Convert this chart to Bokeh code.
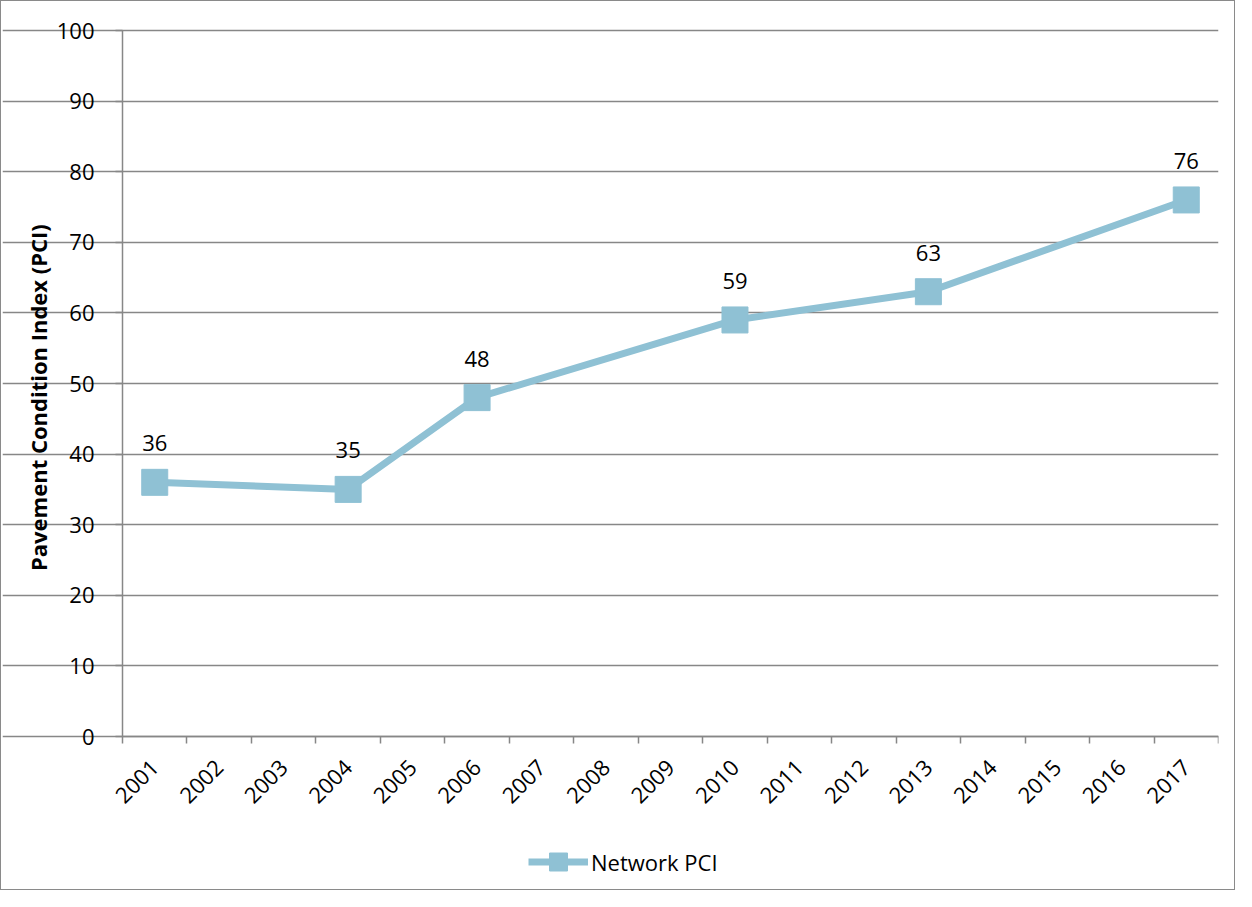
import math
from bokeh.plotting import figure
from bokeh.core.properties import value
from bokeh.models import (ColumnDataSource, FixedTicker, Label, LabelSet, Legend,
                          LegendItem, Range1d)
from bokeh.embed import file_html
from bokeh.resources import INLINE

# ---- data ----
years = [2001, 2002, 2003, 2004, 2005, 2006, 2007, 2008, 2009,
         2010, 2011, 2012, 2013, 2014, 2015, 2016, 2017]
survey_years = [2001, 2004, 2006, 2010, 2013, 2017]
network_pci = [36, 35, 48, 59, 63, 76]
y_ticks = [0, 10, 20, 30, 40, 50, 60, 70, 80, 90, 100]
series_name = "Network PCI"
y_title = "Pavement Condition Index (PCI)"

FONT = "Open Sans"
GRAY = "#878787"
BLUE = "#8FC1D4"

# plot-area geometry (pixels); the frame is enlarged so that axis labels,
# title and legend lie inside it and are not clipped
X0, X1 = years[0] - 0.5, years[-1] + 0.5
PX_PER_YEAR = 1096 / (X1 - X0)
PX_PER_UNIT = 706 / (y_ticks[-1] - y_ticks[0])
FRAME_W, FRAME_H = 1216, 882
x_start = X0 - 120 / PX_PER_YEAR
x_end = x_start + FRAME_W / PX_PER_YEAR
y_end = y_ticks[-1] + 28 / PX_PER_UNIT
y_start = y_end - FRAME_H / PX_PER_UNIT

src = ColumnDataSource(dict(x=survey_years, y=network_pci,
                            lab=[str(v) for v in network_pci]))

p = figure(frame_width=FRAME_W, frame_height=FRAME_H, output_backend="svg",
           toolbar_location=None,
           x_range=Range1d(x_start, x_end), y_range=Range1d(y_start, y_end),
           min_border_left=1, min_border_top=1, min_border_right=16,
           min_border_bottom=5)
p.outline_line_color = None
p.background_fill_color = "white"
p.border_fill_color = "white"
p.styles = {"border": "1px solid #8a8a8a"}

# y axis at the left edge of the category axis
p.yaxis.fixed_location = X0
p.yaxis.bounds = (y_ticks[0], y_ticks[-1])
p.yaxis.ticker = FixedTicker(ticks=y_ticks)
p.yaxis.axis_line_color = GRAY
p.yaxis.axis_line_width = 1.5
p.yaxis.major_tick_line_color = GRAY
p.yaxis.major_tick_line_width = 1.5
p.yaxis.major_tick_out = 7
p.yaxis.major_tick_in = 0
p.yaxis.minor_tick_line_color = None
p.yaxis.major_label_text_font = FONT
p.yaxis.major_label_text_font_size = "22px"
p.yaxis.major_label_text_color = "black"
p.yaxis.major_label_standoff = 21

# x axis at value 0: labels at category centres, tick marks at boundaries
bounds = [y - 0.5 for y in years] + [years[-1] + 0.5]
p.xaxis.fixed_location = y_ticks[0]
p.xaxis.bounds = (X0, X1)
p.xaxis.ticker = FixedTicker(ticks=years, minor_ticks=bounds)
p.xaxis.axis_line_color = GRAY
p.xaxis.axis_line_width = 1.5
p.xaxis.major_tick_line_color = None
p.xaxis.major_tick_out = 0
p.xaxis.major_tick_in = 0
p.xaxis.minor_tick_line_color = GRAY
p.xaxis.minor_tick_line_width = 1.5
p.xaxis.minor_tick_out = 7
p.xaxis.minor_tick_in = 0
p.xaxis.major_label_orientation = math.pi / 4
p.xaxis.major_label_text_font = FONT
p.xaxis.major_label_text_font_size = "22px"
p.xaxis.major_label_text_color = "black"
p.xaxis.major_label_standoff = 20
p.xaxis.major_label_overrides = {y: str(y) for y in years}

p.xgrid.grid_line_color = None
p.ygrid.grid_line_color = GRAY
p.ygrid.grid_line_width = 1.5
p.ygrid.bounds = (X0, X1)

# y-axis title
p.add_layout(Label(x=X0 - 85 / PX_PER_YEAR, y=48, text=y_title, angle=math.pi / 2,
                   text_align="center", text_baseline="middle",
                   text_font=FONT, text_font_size="22px",
                   text_font_style="bold", text_color="black"))

ln = p.line("x", "y", source=src, line_color=BLUE, line_width=7, line_join="round")
sc = p.scatter("x", "y", source=src, marker="square", size=26,
               fill_color=BLUE, line_color=BLUE)

labels = LabelSet(x="x", y="y", text="lab", source=src, y_offset=39,
                  text_align="center", text_baseline="middle",
                  text_font=value(FONT), text_font_size=value("22px"),
                  text_color="black")
p.add_layout(labels)

legend = Legend(items=[LegendItem(label=series_name, renderers=[ln, sc])],
                location=(526, 0), orientation="horizontal",
                glyph_width=60, glyph_height=45, label_standoff=3,
                padding=0, margin=0, border_line_color=None,
                background_fill_alpha=0,
                label_text_font=FONT, label_text_font_size="22px",
                label_text_color="black")
p.add_layout(legend, "center")

open("out.html", "w").write(file_html(p, INLINE))
